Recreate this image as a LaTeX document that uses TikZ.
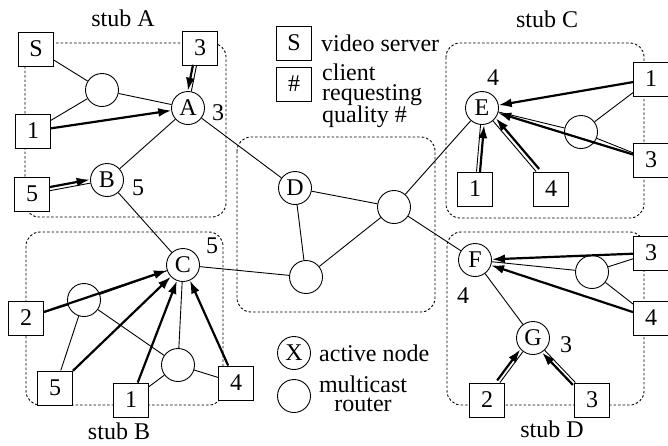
\documentclass[tikz,border=0pt]{standalone}
\usepackage{fontspec}
\setmainfont{Liberation Serif}
\usetikzlibrary{arrows.meta}
\newcommand\fsz{\fontsize{24}{19.5}\selectfont}
\begin{document}
\begin{tikzpicture}[x=1pt,y=-1pt,
 every node/.style={font=\fsz},
 rnode/.style={circle,draw,line width=0.9pt,fill=white,minimum size=33pt,inner sep=0pt},
 cbox/.style={rectangle,draw,line width=0.9pt,fill=white,minimum width=35pt,minimum height=34pt,inner sep=0pt},
 stub/.style={draw,line width=0.9pt,dash pattern=on 2.5pt off 2pt,rounded corners=14pt},
 tl/.style={line width=0.9pt},
 ta/.style={line width=2.2pt,-{Latex[length=13pt,width=9pt]}},
 lab/.style={inner sep=0pt}
]
\useasboundingbox (0,0) rectangle (668,445);
% stub areas
\draw[stub] (25,43) rectangle (226,217);
\draw[stub] (26,232) rectangle (223,405);
\draw[stub] (446,43) rectangle (644,218);
\draw[stub] (447,232) rectangle (644,405);
\draw[stub] (237,137) rectangle (435,312);
% stub labels
\node[lab] (stA) at (123,18) {stub A};
\node[lab] (stB) at (119,431) {stub B};
\node[lab] (stC) at (547,19) {stub C};
\node[lab] (stD) at (552,429) {stub D};
% stub A
\node[cbox] (S) at (36,49) {S};
\node[cbox] (a3) at (200,48) {3};
\node[rnode] (rA) at (102,90) {};
\node[rnode] (A) at (188,108) {A};
\node[cbox] (a1) at (33,131) {1};
\node[rnode] (B) at (107,180) {B};
\node[cbox] (a5) at (32,194) {5};
\node[lab] (lA) at (218,113) {3};
\node[lab] (lB) at (138,188) {5};
% stub B
\node[rnode] (C) at (183,265) {C};
\node[rnode] (rB1) at (84,300) {};
\node[cbox] (b2) at (26,318) {2};
\node[cbox] (b5) at (55,388) {5};
\node[cbox] (b1) at (131,400) {1};
\node[rnode] (rB2) at (178,365) {};
\node[cbox] (b4) at (236,383) {4};
\node[lab] (lC) at (212,246) {5};
% middle
\node[rnode] (D) at (295,188) {D};
\node[rnode] (rM1) at (394,207) {};
\node[rnode] (rM2) at (306,277) {};
% stub C
\node[rnode] (E) at (482,108) {E};
\node[lab] (lE) at (493,78) {4};
\node[cbox] (c1) at (651,79) {1};
\node[rnode] (rC) at (581,132) {};
\node[cbox] (c3) at (651,160) {3};
\node[cbox] (c1b) at (475,189) {1};
\node[cbox] (c4) at (551,189) {4};
% stub D
\node[rnode] (F) at (475,260) {F};
\node[lab] (lF) at (463,296) {4};
\node[cbox] (d3) at (651,253) {3};
\node[rnode] (rD) at (592,272) {};
\node[cbox] (d4) at (651,318) {4};
\node[rnode] (G) at (533,338) {G};
\node[lab] (lG) at (566,345) {3};
\node[cbox] (d2) at (487,400) {2};
\node[cbox] (d3b) at (592,400) {3};
% legend
\node[cbox] (lS) at (294,43) {S};
\node[lab,anchor=west] (tS) at (321,43) {video server};
\node[cbox] (lH) at (294,84) {\#};
\node[lab,anchor=west,align=left] (tH) at (322,96) {client\\requesting\\quality \#};
\node[rnode] (lX) at (294,353) {X};
\node[lab,anchor=west] (tX) at (319,353) {active node};
\node[rnode] (lR) at (294,396) {};
\node[lab,align=center] (tR) at (363,394) {multicast\\router};
% edges stub A
\draw[tl] (S) -- (rA);
\draw[tl] (rA) -- (A);
\draw[tl] (a1) -- (rA);
\draw[ta] (a1) -- (A);
\draw[tl] (a3) -- (A);
\draw[ta,transform canvas={shift={(-3.5,-0.7)}}] (a3) -- (A);
\draw[tl] (a5) -- (B);
\draw[ta,transform canvas={shift={(-0.7,-3.5)}}] (a5) -- (B);
\draw[tl] (B) -- (A);
\draw[tl] (A) -- (D);
\draw[tl] (B) -- (C);
% edges stub B
\draw[tl] (C) -- (rB1);
\draw[tl] (b2) -- (rB1);
\draw[tl] (b5) -- (rB1);
\draw[tl] (rB1) -- (rB2);
\draw[tl] (b1) -- (rB2);
\draw[tl] (rB2) -- (C);
\draw[tl] (rB2) -- (b4);
\draw[tl] (C) -- (rM2);
\draw[ta] (b2) -- (C);
\draw[ta] (b5) -- (C);
\draw[ta] (b1) -- (C);
\draw[ta] (b4) -- (C);
% middle
\draw[tl] (D) -- (rM1);
\draw[tl] (D) -- (rM2);
\draw[tl] (rM2) -- (rM1);
\draw[tl] (rM1) -- (E);
\draw[tl] (rM1) -- (F);
% stub C
\draw[ta] (c1) -- (E);
\draw[tl] (c1) -- (rC);
\draw[tl] (rC) -- (E);
\draw[tl] (rC) -- (c3);
\draw[ta] (c3) -- (E);
\draw[tl] (c1b) -- (E);
\draw[ta,transform canvas={shift={(3.5,0.3)}}] (c1b) -- (E);
\draw[tl] (c4) -- (E);
\draw[ta,transform canvas={shift={(3,-2.6)}}] (c4) -- (E);
% stub D
\draw[ta] (d3) -- (F);
\draw[tl] (d3) -- (rD);
\draw[tl] (rD) -- (F);
\draw[tl] (rD) -- (d4);
\draw[ta] (d4) -- (F);
\draw[tl] (F) -- (G);
\draw[tl] (d2) -- (G);
\draw[ta,transform canvas={shift={(-2.8,-2.1)}}] (d2) -- (G);
\draw[tl] (d3b) -- (G);
\draw[ta,transform canvas={shift={(-2.5,2.4)}}] (d3b) -- (G);
\end{tikzpicture}
\end{document}
